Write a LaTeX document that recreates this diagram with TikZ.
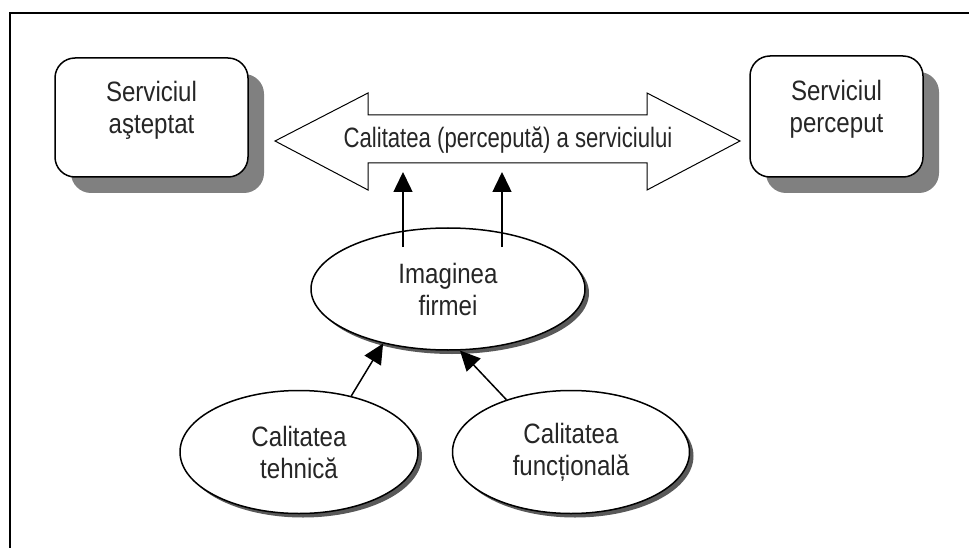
\documentclass[tikz,border=0pt]{standalone}
\usepackage{fontspec}
\setmainfont{Liberation Sans}[FakeStretch=0.86]
\usetikzlibrary{arrows.meta,shapes.geometric,shadows}
\begin{document}
\begin{tikzpicture}[x=1pt, y=-1pt,
    box/.style={draw, line width=1.5pt, rounded corners=20pt, fill=white, align=center, text depth=20pt,
        drop shadow={shadow xshift=16pt, shadow yshift=-16pt, fill=black!50, opacity=1}},
    ell/.style={ellipse, draw, line width=1.5pt, fill=white, align=center, inner sep=0pt,
        drop shadow={shadow xshift=4pt, shadow yshift=-4pt, fill=black!65, opacity=1}},
    tip/.style={-{Triangle[width=19pt,length=20pt]}, line width=1.5pt},
    every node/.style={font=\fontsize{28}{32}\selectfont, text=black!85}]
    \useasboundingbox (0,0) rectangle (969,548);
    \draw[line width=1.5pt] (969,13) -- (10,13) -- (10,548);

    \node[box, minimum width=193pt, minimum height=119pt] (asteptat) at (151.5,117.5) {Serviciul\\aşteptat};
    \node[box, minimum width=173pt, minimum height=121pt] (perceput) at (836.5,116.5) {Serviciul\\perceput};

    % double arrow between the two boxes
    \draw[line width=1pt] (275,141) -- (368,93) -- (368,115) -- (647,115) -- (647,93) -- (740,141)
        -- (647,190) -- (647,163) -- (368,163) -- (368,190) -- cycle;
    \node[xscale=0.92, transform shape] (calit) at (508,140) {Calitatea (percepută) a serviciului};

    \node[ell, minimum width=274pt, minimum height=122pt] (imag) at (448,289) {Imaginea\\firmei};
    \node[ell, minimum width=238pt, minimum height=123pt] (tech) at (299,452) {Calitatea\\tehnică};
    \node[ell, minimum width=237pt, minimum height=123pt] (func) at (571,452) {Calitatea\\funcțională};

    \coordinate (c1) at (403,172);
    \coordinate (c2) at (502,172);

    \draw[tip] ([xshift=-45pt,yshift=42pt]imag.center) to (c1);
    \draw[tip] ([xshift=54pt,yshift=42pt]imag.center) to (c2);
    \draw[tip] (tech.47) to (imag.220);
    \draw[tip] (func.141) to (imag.281);
\end{tikzpicture}
\end{document}
